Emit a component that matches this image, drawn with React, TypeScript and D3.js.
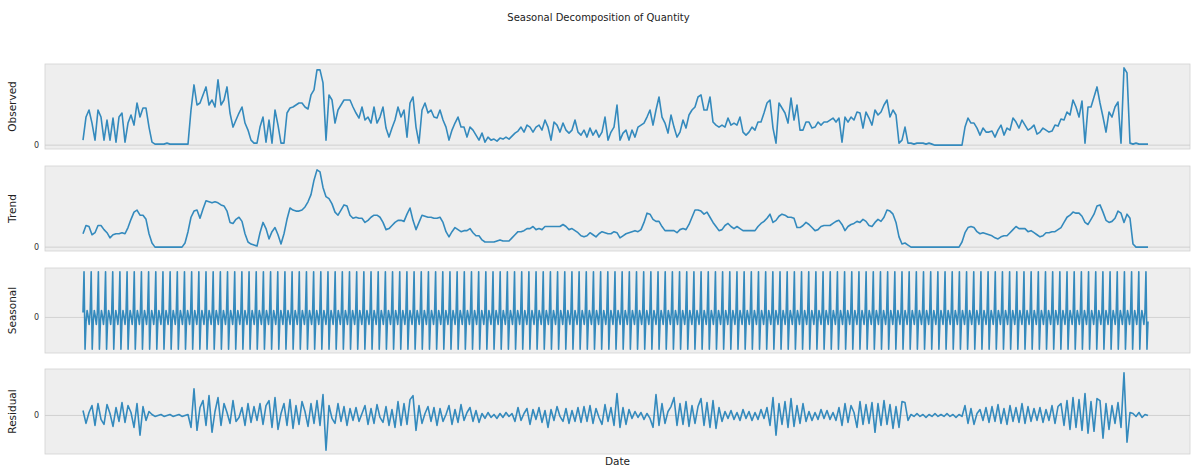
import React from 'react';
import * as d3 from 'd3';

// Daily quantity series, read every third day across the whole date span
const observed = [
  5, 28, 35, 22, 5, 35, 28, 5, 25, 5,
  27, 3, 28, 32, 3, 22, 30, 20, 42, 28,
  37, 37, 18, 3, 1, 1, 1, 1, 2, 1,
  1, 1, 1, 1, 1, 1, 35, 60, 40, 42,
  50, 58, 40, 45, 38, 65, 40, 45, 58, 32,
  18, 25, 32, 38, 22, 15, 5, 2, 2, 18,
  28, 3, 25, 2, 35, 20, 2, 2, 32, 37,
  38, 40, 42, 42, 38, 36, 50, 55, 75, 75,
  62, 5, 50, 45, 22, 35, 40, 45, 45, 45,
  38, 32, 27, 38, 25, 28, 22, 38, 22, 28,
  38, 17, 8, 17, 25, 38, 28, 35, 8, 42,
  48, 18, 2, 35, 42, 32, 35, 28, 27, 35,
  25, 18, 5, 15, 22, 28, 18, 18, 8, 18,
  15, 10, 5, 12, 3, 8, 5, 6, 4, 7,
  6, 8, 6, 9, 12, 14, 18, 13, 20, 18,
  13, 18, 20, 15, 25, 18, 5, 23, 20, 13,
  22, 15, 12, 15, 25, 13, 10, 15, 8, 17,
  10, 15, 8, 13, 28, 5, 13, 18, 40, 5,
  12, 15, 5, 15, 8, 18, 20, 22, 28, 35,
  20, 35, 48, 28, 22, 12, 30, 18, 8, 13,
  25, 17, 30, 35, 38, 48, 50, 35, 35, 48,
  23, 20, 18, 20, 18, 27, 20, 22, 20, 28,
  13, 10, 13, 18, 15, 23, 23, 32, 42, 45,
  17, 2, 42, 37, 32, 22, 47, 25, 40, 15,
  15, 23, 23, 17, 18, 23, 20, 23, 23, 25,
  27, 23, 27, 3, 28, 23, 28, 25, 33, 32,
  17, 33, 27, 20, 35, 30, 33, 40, 45, 28,
  35, 30, 2, 5, 18, 2, 2, 1, 2, 2,
  2, 1, 2, 1, 0, 0, 0, 0, 0, 0,
  0, 0, 0, 0, 18, 27, 22, 22, 17, 10,
  17, 13, 13, 14, 8, 15, 20, 10, 17, 15,
  27, 23, 17, 25, 20, 15, 17, 20, 11, 13,
  17, 15, 13, 14, 20, 19, 26, 25, 33, 30,
  45, 38, 28, 44, 2, 38, 38, 48, 58, 42,
  28, 13, 33, 28, 38, 43, 2, 77, 72, 2,
  1, 2, 1, 1, 1, 1,
];

// Trend component on the same sampling
const trend = [
  13, 21, 20, 12, 14, 21, 21, 17, 14, 9,
  12, 13, 13, 14, 13, 19, 27, 34, 36, 31,
  31, 27, 13, 4, 0, 0, 0, 0, 0, 0,
  0, 0, 0, 0, 4, 15, 29, 35, 36, 28,
  37, 45, 44, 43, 44, 43, 41, 40, 35, 24,
  23, 27, 29, 25, 13, 5, 3, 2, 1, 14,
  24, 18, 8, 15, 19, 12, 3, 13, 27, 38,
  36, 35, 35, 36, 39, 44, 51, 65, 75, 73,
  58, 49, 47, 42, 34, 31, 36, 41, 40, 31,
  28, 29, 28, 28, 24, 26, 29, 31, 31, 29,
  24, 17, 18, 21, 24, 26, 26, 25, 32, 38,
  26, 17, 24, 31, 30, 29, 29, 28, 28, 29,
  24, 15, 10, 15, 19, 17, 15, 16, 16, 18,
  14, 11, 11, 7, 5, 5, 5, 5, 6, 7,
  6, 6, 6, 9, 12, 15, 15, 16, 18, 18,
  20, 17, 18, 17, 20, 20, 20, 20, 20, 20,
  22, 20, 17, 18, 16, 14, 11, 10, 11, 14,
  12, 10, 13, 15, 14, 13, 13, 15, 14, 9,
  11, 13, 14, 15, 16, 15, 17, 24, 33, 32,
  27, 25, 25, 20, 16, 16, 16, 16, 14, 17,
  18, 17, 22, 29, 36, 36, 35, 32, 34, 29,
  24, 20, 16, 17, 21, 23, 20, 18, 20, 18,
  16, 16, 16, 16, 16, 20, 23, 25, 28, 32,
  24, 26, 30, 32, 31, 29, 29, 28, 19, 19,
  21, 24, 22, 19, 16, 17, 20, 21, 21, 21,
  23, 25, 26, 22, 16, 20, 22, 23, 25, 24,
  27, 25, 21, 20, 24, 27, 25, 29, 36, 35,
  32, 24, 10, 3, 4, 2, 0, 0, 0, 0,
  0, 0, 0, 0, 0, 0, 0, 0, 0, 0,
  0, 0, 0, 5, 14, 19, 20, 19, 15, 13,
  14, 13, 12, 11, 9, 8, 10, 11, 11, 14,
  17, 20, 18, 18, 18, 15, 16, 14, 12, 10,
  11, 14, 14, 15, 15, 17, 19, 24, 29, 31,
  34, 33, 33, 30, 24, 22, 27, 32, 40, 41,
  34, 26, 24, 25, 28, 35, 33, 24, 32, 28,
  3, 0, 0, 0, 0, 0,
];

// One week of the seasonal component (it repeats every week of the span)
const weeklySeasonal = [5, 46, -32, -4, 7, 1, -7];
const seasonalDays = 1040;

// Residual component on the same sampling as observed
const residual = [
  5, -8, 3, 10, -10, 12, -4, -9, 11, 2, -11, 8, -6, 13, -7, 10, 3, -12, 12, -20, 9, -5, 4,
  1, -1, 0, 1, -1, 0, 1, -1, 0, 1, -1, 0, 1,
  -12, 27, -15, 8, 15, -10, 20, -17, 4, 18,
  -10, 12, 3, -8, 15, -6, -2, 8, -10, 12, -7, 9, -5, 12, -9,
  10, 15, -12, 18, -14, 2, 12, -10, 16,
  -13, 10, -9, 14, 4, -11, 12, -8, 15, -10,
  21, -35,
  10, -3, -8, 12, -6, 9, -10, 7,
  -5, 8, -6, 2, 10, -9, 7, -8, 11, -2, -7, 9, -10,
  6, -12, 14, -10, 12, -9, 16,
  20, -15,
  10, -8, 2, 9, -6, 8, -10, 7, -6, 1, 10, -9, 6, -7, 11, -5, 3, 8, -6, 5, -7,
  2, -3, 3, -2, 1, -3, 2, -2, 3, -1, 2,
  -6, 8, -5, 2, 7, -9, 6, -4, 8, -7, 5, -12, 6, -5, 9, -1, -6, 7, -8, 5,
  -6, 8, -7, 9, -6, 10, -8, 7, -2, -9, 11, -6, 8, -10,
  22, -12, 8, -9, 6,
  -3, 4, -2, 3, -4, 2, -3,
  -12, 21, -10, 12, -8, 4, 9, 18, -10, 12, -9, 14, -11, 10, -8, 9, 17, -10, 13, -12, 15, -13, 8,
  -6, 4, -3, 5, -4, 3, -5, 6, -3, 4, -5, 3, -4, 6, -3,
  8, -10, 18, -20, 12, -9, 14, -12, 17, -11, 10, -8, 12, -6,
  4, -5, 3, -4, 6, -3, 5, -4, 3, -5,
  8, -10, 12, -7, 10, 3, -12, 14, -9, 11, -8, 13, -17, 12, -10, 15, -9, 11, -13, 9, -12, 14, 13, -5,
  1, -1, 2, -1, 1, -2, 1, -1, 2, -1, 1, -1, 2, -1, 1, -2, 1, -1,
  10, -8, 7, -9, 2, 6, -5, 8, -7, 9, -6, 11, -8, 7, -9, 10, -6, 8, -7, 12, -8, 9, -6, 7, -5, 8, -7, 6, -5, 10, -8, 9,
  12, -10, 15, -14, 18, -12, 16, -15, 22, -18, 14, -16, 17, 15, -23, 12, -14, 10, -8, 13,
  -12, 43, -27, 3,
  2, -1, 3, -2, 1, 0,
];

const panelLabels = ['Observed', 'Trend', 'Seasonal', 'Residual'];
const yTicks = [0];
const chartTitle = 'Seasonal Decomposition of Quantity';
const xLabel = 'Date';

const W = 1197;
const H = 468;
const axLeft = 45;
const axRight = 1190;
const panelTops = [64, 166, 268, 369];
const panelHeight = 85;
// blank space inside each axes before and after the data
const padLeft = 38;
const padRight = 42;

const lineColor = '#348ABD';
const font = 'DejaVu Sans, sans-serif';

function tileSeasonal(profile: number[], days: number): number[] {
  const out: number[] = [];
  for (let d = 0; d < days; d++) out.push(profile[d % profile.length]);
  return out;
}

export default function App() {
  const seasonal = tileSeasonal(weeklySeasonal, seasonalDays);
  const series = [observed, trend, seasonal, residual];

  return (
    <svg
      width={W}
      height={H}
      style={{ position: 'absolute', left: 0, top: 0, background: '#ffffff' }}
      fontFamily={font}
    >
      <text x={W / 2} y={21} textAnchor="middle" fontSize={10} fill="#222">
        {chartTitle}
      </text>
      {series.map((values, k) => {
        const top = panelTops[k];
        const bottom = top + panelHeight;
        const [lo, hi] = d3.extent(values) as [number, number];
        const span = hi - lo || 1;
        const y = d3
          .scaleLinear()
          .domain([lo - span * 0.05, hi + span * 0.05])
          .range([bottom, top]);
        const x = d3
          .scaleLinear()
          .domain([0, values.length - 1])
          .range([axLeft + padLeft, axRight - padRight]);
        const line = d3
          .line<number>()
          .x((_, i) => x(i))
          .y((v) => y(v));
        const midY = (top + bottom) / 2;
        return (
          <g key={panelLabels[k]}>
            <rect
              x={axLeft}
              y={top}
              width={axRight - axLeft}
              height={panelHeight}
              fill="#eeeeee"
              stroke="#d2d2d2"
              strokeWidth={0.8}
            />
            {yTicks.map((t) => (
              <g key={t}>
                <line
                  x1={axLeft}
                  x2={axRight}
                  y1={y(t)}
                  y2={y(t)}
                  stroke="#c9c9c9"
                  strokeWidth={0.8}
                />
                <text
                  x={axLeft - 6}
                  y={y(t)}
                  dy="0.33em"
                  textAnchor="end"
                  fontSize={8}
                  fill="#333"
                >
                  {t}
                </text>
              </g>
            ))}
            <path
              d={line(values) ?? ''}
              fill="none"
              stroke={lineColor}
              strokeWidth={1.6}
              strokeLinejoin="round"
            />
            <text
              transform={`translate(${16},${midY}) rotate(-90)`}
              textAnchor="middle"
              fontSize={10.5}
              fill="#222"
            >
              {panelLabels[k]}
            </text>
          </g>
        );
      })}
      <text
        x={(axLeft + axRight) / 2}
        y={465}
        textAnchor="middle"
        fontSize={10.5}
        fill="#222"
      >
        {xLabel}
      </text>
    </svg>
  );
}
